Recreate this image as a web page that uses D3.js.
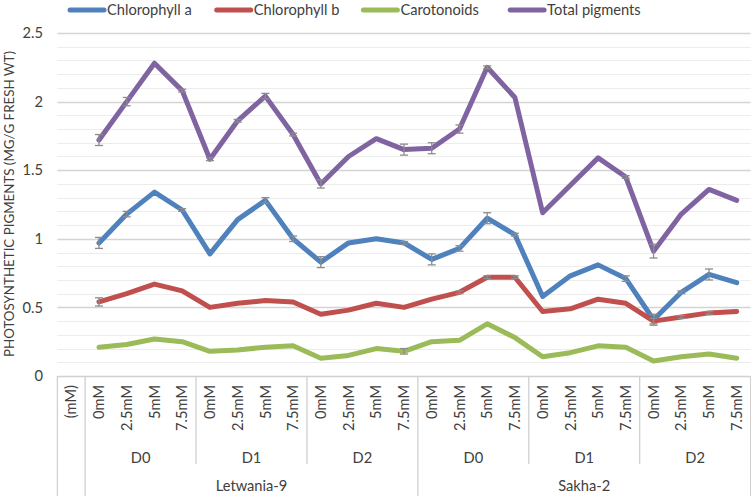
<!DOCTYPE html>
<html>
<head>
<meta charset="utf-8">
<script src="https://cdn.jsdelivr.net/npm/d3@7"></script>
<style>
  html, body { margin: 0; padding: 0; background: #fff; }
  svg { display: block; }
  text { font-family: Lato, "Open Sans", sans-serif; fill: #404040; }
</style>
</head>
<body>
<svg id="chart" width="751" height="496"></svg>
<script>
// ---- data ----
const cultivars = ["Letwania-9", "Sakha-2"];
const stages = ["D0", "D1", "D2"];
const concentrations = ["0mM", "2.5mM", "5mM", "7.5mM"];
const unitLabel = "(mM)";

const seriesNames = ["Chlorophyll a", "Chlorophyll b", "Carotonoids", "Total pigments"];
const seriesColors = ["#4F81BD", "#C0504D", "#9BBB59", "#8064A2"];

const chlA = [0.97, 1.18, 1.34, 1.21, 0.89, 1.14, 1.28, 1.00, 0.83, 0.97, 1.00, 0.97,
              0.85, 0.93, 1.15, 1.03, 0.58, 0.73, 0.81, 0.71, 0.41, 0.61, 0.74, 0.68];
const chlB = [0.54, 0.60, 0.67, 0.62, 0.50, 0.53, 0.55, 0.54, 0.45, 0.48, 0.53, 0.50,
              0.56, 0.61, 0.72, 0.72, 0.47, 0.49, 0.56, 0.53, 0.40, 0.43, 0.46, 0.47];
const carot = [0.21, 0.23, 0.27, 0.25, 0.18, 0.19, 0.21, 0.22, 0.13, 0.15, 0.20, 0.18,
               0.25, 0.26, 0.38, 0.28, 0.14, 0.17, 0.22, 0.21, 0.11, 0.14, 0.16, 0.13];
const total = [1.72, 2.00, 2.28, 2.08, 1.58, 1.86, 2.04, 1.76, 1.40, 1.60, 1.73, 1.65,
               1.66, 1.80, 2.25, 2.03, 1.19, 1.39, 1.59, 1.45, 0.91, 1.18, 1.36, 1.28];

const chlAErr = [0.04, 0.02, 0, 0.01, 0, 0, 0.02, 0.02, 0.04, 0, 0, 0.01,
                 0.04, 0.02, 0.04, 0.01, 0, 0, 0, 0.02, 0.04, 0.01, 0.04, 0];
const chlBErr = [0.03, 0, 0, 0, 0, 0, 0, 0, 0, 0, 0, 0,
                 0, 0.01, 0.01, 0.01, 0, 0, 0, 0, 0.02, 0.01, 0.01, 0];
const carotErr = [0, 0, 0, 0, 0, 0, 0, 0, 0, 0, 0, 0.02,
                  0, 0, 0, 0, 0, 0, 0, 0, 0, 0, 0, 0];
const totalErr = [0.04, 0.03, 0, 0.01, 0.01, 0.01, 0.02, 0.01, 0.03, 0, 0, 0.04,
                  0.04, 0.03, 0.01, 0, 0, 0, 0, 0.01, 0.05, 0, 0, 0];

const yTicks = [0, 0.5, 1, 1.5, 2, 2.5];
const yTickLabels = ["0", "0.5", "1", "1.5", "2", "2.5"];
const yTitle = "PHOTOSYNTHETIC PIGMENTS (MG/G FRESH WT)";

// ---- build ----
const seriesValues = [chlA, chlB, carot, total];
const seriesErrs = [chlAErr, chlBErr, carotErr, totalErr];

const keys = [unitLabel];
const catInfo = [];
cultivars.forEach(c => stages.forEach(s => concentrations.forEach(m => {
  const k = c + "|" + s + "|" + m;
  keys.push(k);
  catInfo.push({ key: k, cultivar: c, stage: s, conc: m });
})));

const svg = d3.select("#chart");
const W = 751, H = 496;
const plot = { left: 57.4, right: 750.6, top: 33, bottom: 376 };
const FS = "14.67px";

const x = d3.scaleBand().domain(keys).range([plot.left, plot.right]).padding(0);
const y = d3.scaleLinear().domain([0, 2.5]).range([plot.bottom, plot.top]);
const bw = x.bandwidth();

// minor gridlines
const minor = d3.range(0.1, 2.5, 0.1).filter(v => Math.abs(v * 2 - Math.round(v * 2)) > 1e-6);
svg.append("g").selectAll("line").data(minor).join("line")
  .attr("x1", plot.left).attr("x2", plot.right)
  .attr("y1", d => Math.round(y(d)) + 0.5).attr("y2", d => Math.round(y(d)) + 0.5)
  .attr("stroke", "#ececec").attr("stroke-width", 1);

// major gridlines
svg.append("g").selectAll("line").data(yTicks.filter(v => v > 0)).join("line")
  .attr("x1", plot.left).attr("x2", plot.right)
  .attr("y1", d => Math.round(y(d)) + 0.5).attr("y2", d => Math.round(y(d)) + 0.5)
  .attr("stroke", "#d4d4d4").attr("stroke-width", 1.3);

// y axis labels
const yAxis = d3.axisLeft(y).tickValues(yTicks)
  .tickFormat((d, i) => yTickLabels[i]).tickSize(0).tickPadding(0);
const yg = svg.append("g").attr("transform", `translate(43,0)`).call(yAxis);
yg.select(".domain").remove();
yg.selectAll("text").style("font-size", FS).attr("fill", "#404040")
  .style("font-family", 'Lato, sans-serif');

// y title
svg.append("text")
  .attr("transform", `translate(9,204) rotate(-90)`)
  .attr("text-anchor", "middle").attr("dy", "0.35em")
  .style("font-size", "13.33px")
  .text(yTitle);

// x axis line
svg.append("line")
  .attr("x1", plot.left).attr("x2", plot.right)
  .attr("y1", plot.bottom + 0.5).attr("y2", plot.bottom + 0.5)
  .attr("stroke", "#d0d0d0").attr("stroke-width", 1.3);

// category separators
const sepG = svg.append("g").attr("stroke", "#d0d0d0").attr("stroke-width", 1.3);
const fullLines = [x(unitLabel), x(unitLabel) + bw];
cultivars.forEach((c, ci) => { if (ci > 0) fullLines.push(x(c + "|" + stages[0] + "|" + concentrations[0])); });
fullLines.push(plot.right);
fullLines.forEach(px => sepG.append("line")
  .attr("x1", px).attr("x2", px).attr("y1", plot.bottom).attr("y2", H));
cultivars.forEach(c => stages.forEach((s, si) => {
  if (si > 0) {
    const px = x(c + "|" + s + "|" + concentrations[0]);
    sepG.append("line").attr("x1", px).attr("x2", px)
      .attr("y1", plot.bottom).attr("y2", 464);
  }
}));

// concentration labels (rotated)
const labG = svg.append("g");
keys.forEach((k, i) => {
  const label = i === 0 ? unitLabel : catInfo[i - 1].conc;
  labG.append("text")
    .attr("transform", `translate(${x(k) + bw / 2},385) rotate(-90)`)
    .attr("text-anchor", "end").attr("dy", "0.35em")
    .style("font-size", FS)
    .text(label);
});

// stage labels
cultivars.forEach(c => stages.forEach(s => {
  const a = x(c + "|" + s + "|" + concentrations[0]);
  const b = x(c + "|" + s + "|" + concentrations[concentrations.length - 1]) + bw;
  labG.append("text").attr("x", (a + b) / 2).attr("y", 458)
    .attr("text-anchor", "middle").attr("dy", "0.35em")
    .style("font-size", FS).text(s);
}));
// cultivar labels
cultivars.forEach(c => {
  const a = x(c + "|" + stages[0] + "|" + concentrations[0]);
  const b = x(c + "|" + stages[stages.length - 1] + "|" + concentrations[concentrations.length - 1]) + bw;
  labG.append("text").attr("x", (a + b) / 2).attr("y", 486)
    .attr("text-anchor", "middle").attr("dy", "0.35em")
    .style("font-size", FS).text(c);
});

// lines
const line = d3.line()
  .x((d, i) => x(catInfo[i].key) + bw / 2)
  .y(d => y(d));
seriesValues.forEach((vals, si) => {
  svg.append("path").datum(vals)
    .attr("d", line)
    .attr("fill", "none")
    .attr("stroke", seriesColors[si])
    .attr("stroke-width", 5)
    .attr("stroke-linejoin", "round")
    .attr("stroke-linecap", "round");
});

// error bars
const errG = svg.append("g").attr("stroke", "#8c8c8c").attr("stroke-width", 1.3);
seriesValues.forEach((vals, si) => {
  vals.forEach((v, i) => {
    const e = seriesErrs[si][i];
    if (!e) return;
    const cx = x(catInfo[i].key) + bw / 2;
    const y1 = y(v - e), y2 = y(v + e);
    errG.append("line").attr("x1", cx).attr("x2", cx).attr("y1", y1).attr("y2", y2);
    errG.append("line").attr("x1", cx - 4).attr("x2", cx + 4).attr("y1", y1).attr("y2", y1);
    errG.append("line").attr("x1", cx - 4).attr("x2", cx + 4).attr("y1", y2).attr("y2", y2);
  });
});

// legend
const legG = svg.append("g");
seriesNames.forEach((n, i) => {
  const sx = 68 + i * 146.7;
  legG.append("line").attr("x1", sx + 2).attr("x2", sx + 36)
    .attr("y1", 10).attr("y2", 10)
    .attr("stroke", seriesColors[i]).attr("stroke-width", 5).attr("stroke-linecap", "round");
  legG.append("text").attr("x", sx + 39).attr("y", 10).attr("dy", "0.35em")
    .style("font-size", FS).text(n);
});
</script>
</body>
</html>
